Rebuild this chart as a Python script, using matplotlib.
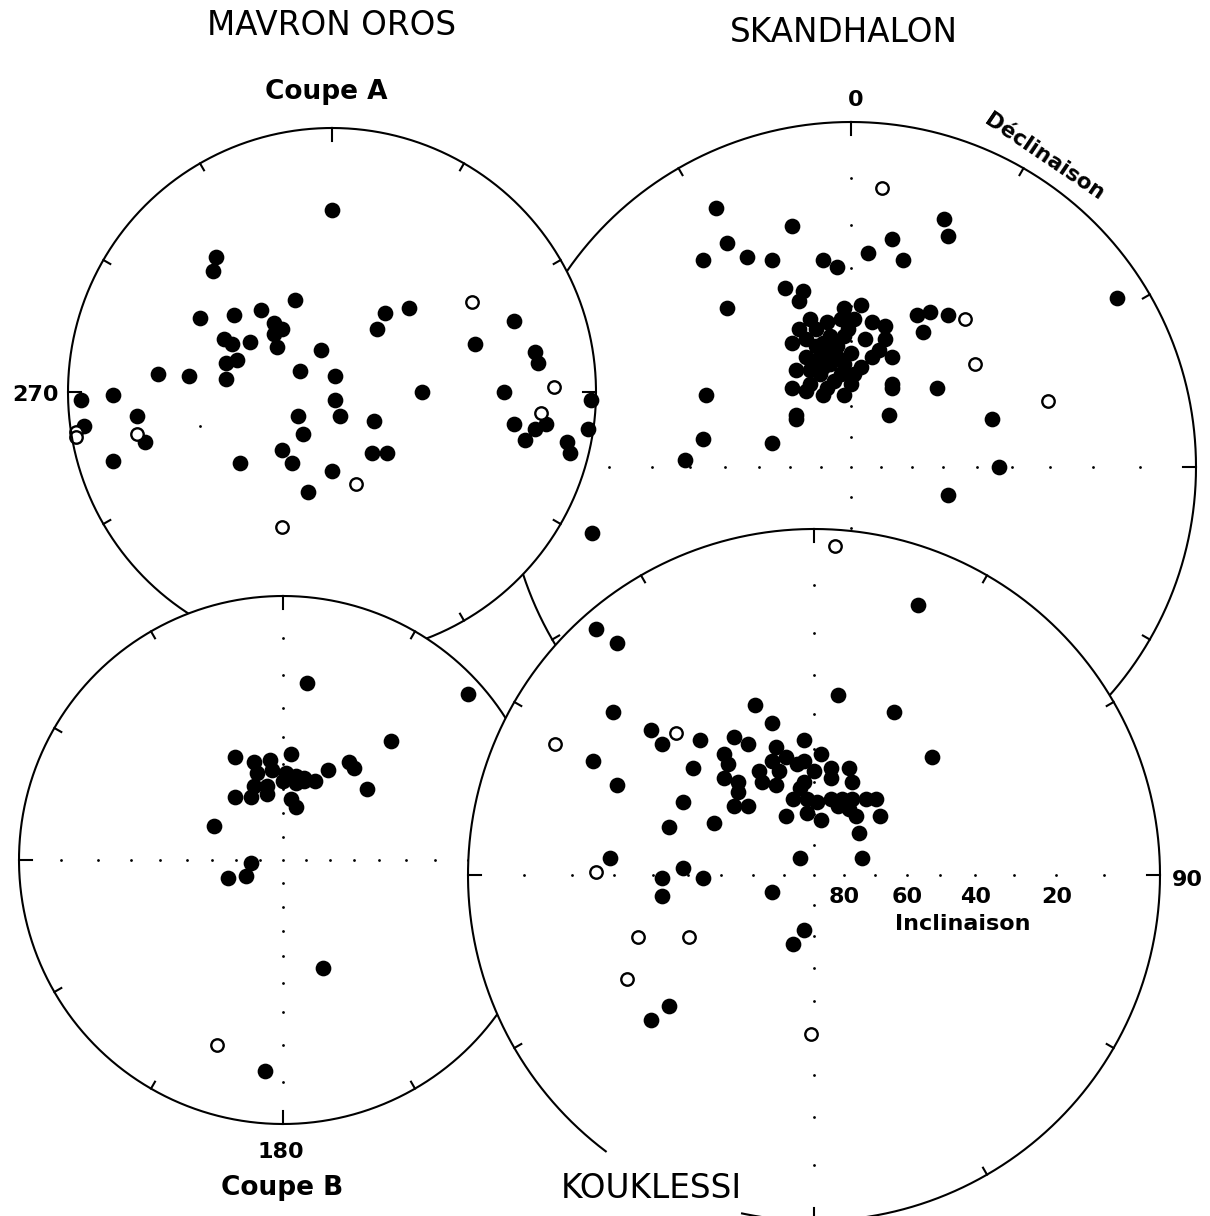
import numpy as np
import matplotlib
matplotlib.use("Agg")
import matplotlib.pyplot as plt
from matplotlib.patches import Circle

W, H = 1210, 1216

# Wulff net positions (unit radius): east, north
# --- Mavron Oros, coupe A
coupe_a_full_e = [0.00, -0.44, -0.45, -0.14, -0.50, -0.37, -0.27, -0.22, -0.19, -0.22,
                  -0.21, -0.41, -0.38, -0.31, -0.40, -0.36, -0.40, -0.04, -0.12, 0.01,
                  -0.66, -0.54, -0.83, -0.95, 0.20, 0.17, 0.29, 0.01, 0.69, 0.54,
                  0.77, 0.78, 0.34, 0.65, 0.98, -0.94, -0.74, -0.71, -0.83, -0.35,
                  -0.13, -0.11, 0.03, -0.19, -0.15, 0.00, -0.09, 0.16, 0.15, 0.21,
                  0.69, 0.77, 0.81, 0.73, 0.89, 0.90, 0.97]
coupe_a_full_n = [0.69, 0.51, 0.46, 0.35, 0.28, 0.29, 0.31, 0.26, 0.24, 0.22,
                  0.17, 0.20, 0.18, 0.19, 0.11, 0.12, 0.05, 0.16, 0.08, 0.06,
                  0.07, 0.06, -0.01, -0.03, 0.30, 0.24, 0.32, -0.03, 0.27, 0.18,
                  0.15, 0.11, 0.00, 0.00, -0.03, -0.13, -0.09, -0.19, -0.26, -0.27,
                  -0.09, -0.16, -0.09, -0.22, -0.27, -0.30, -0.38, -0.11, -0.23, -0.23,
                  -0.12, -0.14, -0.12, -0.18, -0.19, -0.23, -0.14]
coupe_a_open_e = [0.53, 0.84, 0.79, -0.97, -0.97, -0.74, 0.09, -0.19]
coupe_a_open_n = [0.34, 0.02, -0.08, -0.15, -0.17, -0.16, -0.35, -0.51]

# --- Mavron Oros, coupe B
coupe_b_full_e = [0.09, 0.41, 0.70, -0.18, 0.25, 0.27, 0.17, 0.32, -0.11, -0.05,
                  0.03, -0.10, -0.04, 0.01, 0.05, 0.08, 0.12, 0.00, 0.05, 0.08,
                  -0.11, -0.06, -0.18, -0.12, -0.06, 0.03, 0.05, -0.26, -0.12, -0.21,
                  -0.14, 0.15, -0.07]
coupe_b_full_n = [0.67, 0.45, 0.63, 0.39, 0.37, 0.35, 0.34, 0.27, 0.37, 0.38,
                  0.40, 0.33, 0.34, 0.33, 0.32, 0.31, 0.30, 0.30, 0.29, 0.30,
                  0.28, 0.28, 0.24, 0.24, 0.25, 0.23, 0.20, 0.13, -0.01, -0.07,
                  -0.06, -0.41, -0.80]
coupe_b_open_e = [-0.25]
coupe_b_open_n = [-0.70]

# --- Skandhalon
skand_full_e = [-0.39, -0.17, -0.36, -0.43, -0.30, -0.23, -0.19, -0.14, -0.15, -0.36,
                -0.12, -0.17, -0.42, 0.27, 0.28, 0.12, 0.05, 0.15, -0.08, -0.04,
                0.77, 0.19, 0.23, 0.28, 0.21, 0.12, 0.25, 0.11, 0.41, 0.43,
                0.28, -0.16, -0.43, -0.23, -0.48, -0.75,
                -0.07, -0.02, 0.03, 0.01, 0.06, 0.10, 0.10, 0.12, 0.08, 0.06,
                0.03, 0.01, -0.16, -0.17, -0.13, -0.08, -0.02, 0.12, -0.16,
                -0.10, -0.06, -0.02, -0.10, -0.06, -0.10, -0.06, -0.02, -0.09, -0.05,
                0.00, -0.12, -0.12, -0.03, -0.15,
                -0.13, -0.08, -0.04, -0.13, -0.08, -0.04, 0.00, -0.08, -0.03, -0.07,
                0.04, -0.01]
skand_full_n = [0.75, 0.70, 0.65, 0.60, 0.61, 0.60, 0.52, 0.51, 0.48, 0.46,
                0.43, 0.36, 0.21, 0.72, 0.67, 0.66, 0.62, 0.60, 0.60, 0.58,
                0.49, 0.44, 0.45, 0.44, 0.39, 0.23, 0.23, 0.15, 0.14, 0.00,
                -0.08, 0.14, 0.08, 0.07, 0.02, -0.19,
                0.42, 0.46, 0.47, 0.43, 0.42, 0.41, 0.37, 0.32, 0.34, 0.32,
                0.29, 0.27, 0.28, 0.23, 0.22, 0.21, 0.21, 0.24, 0.15,
                0.40, 0.38, 0.38, 0.35, 0.34, 0.31, 0.30, 0.30, 0.27, 0.25,
                0.24, 0.28, 0.24, 0.43, 0.40,
                0.37, 0.36, 0.35, 0.32, 0.32, 0.32, 0.33, 0.29, 0.27, 0.23,
                0.37, 0.40]
skand_open_e = [0.09, 0.33, 0.36, 0.57]
skand_open_n = [0.81, 0.43, 0.30, 0.19]

# --- Kouklessi
kouk_full_e = [0.30, 0.07, 0.23, 0.34, -0.63, -0.57, -0.58, -0.12, -0.17, -0.47,
               -0.44, -0.33, -0.23, -0.19, -0.03, -0.64, -0.35, -0.57, -0.38, -0.26,
               -0.25, -0.26, -0.11, -0.08, -0.12, -0.10, 0.02, -0.16, -0.15, -0.11,
               -0.05, -0.03, 0.00, 0.05, 0.10, 0.05, 0.11, -0.22, -0.22, -0.23,
               -0.19, -0.03, -0.04, -0.06, -0.02, 0.01, 0.05, 0.08, 0.11, 0.15,
               0.18, -0.02, 0.02, 0.07, 0.10, 0.12, 0.19, -0.08, -0.29, 0.13,
               0.14, -0.42, -0.59, -0.44, -0.44, -0.38, -0.32, -0.04, -0.12, -0.03,
               -0.06, -0.42, -0.47]
kouk_full_n = [0.78, 0.52, 0.47, 0.34, 0.71, 0.67, 0.47, 0.44, 0.49, 0.42,
               0.38, 0.39, 0.40, 0.38, 0.39, 0.33, 0.31, 0.26, 0.21, 0.35,
               0.32, 0.28, 0.37, 0.34, 0.33, 0.30, 0.35, 0.30, 0.27, 0.26,
               0.32, 0.33, 0.30, 0.31, 0.31, 0.28, 0.27, 0.27, 0.24, 0.20,
               0.20, 0.27, 0.25, 0.22, 0.22, 0.21, 0.22, 0.22, 0.22, 0.22,
               0.22, 0.18, 0.16, 0.20, 0.19, 0.17, 0.17, 0.17, 0.15, 0.12,
               0.05, 0.14, 0.05, -0.01, -0.06, 0.02, -0.01, 0.05, -0.05, -0.16,
               -0.20, -0.38, -0.42]
kouk_open_e = [0.06, -0.40, -0.75, -0.63, -0.51, -0.36, -0.54, -0.01]
kouk_open_n = [0.95, 0.41, 0.38, 0.01, -0.18, -0.18, -0.30, -0.46]

incl_labels = [80, 60, 40, 20]


def wulff(inc):
    return np.tan(np.radians(90 - np.asarray(inc, dtype=float)) / 2)


def make_net(fig, cx, cy, r, z, gap=None, dots=True):
    ax = fig.add_axes([(cx - r) / W, 1 - (cy + r) / H, 2 * r / W, 2 * r / H])
    ax.set_xlim(-1, 1)
    ax.set_ylim(-1, 1)
    ax.set_axis_off()
    ax.set_zorder(z)
    ax.add_patch(Circle((0, 0), 1, facecolor='white', edgecolor='none', zorder=1))
    deg = np.linspace(0, 360, 1441)
    x, y = np.sin(np.radians(deg)), np.cos(np.radians(deg))
    if gap is not None:
        m = (deg > gap[0]) & (deg < gap[1])
        x[m] = np.nan
        y[m] = np.nan
    ax.plot(x, y, color='k', lw=1.5, zorder=4, clip_on=False)
    for d in range(0, 360, 30):
        if gap is not None and gap[0] < d < gap[1]:
            continue
        L = (13 if d % 90 == 0 else 8) / r
        s, c = np.sin(np.radians(d)), np.cos(np.radians(d))
        ax.plot([s, s * (1 - L)], [c, c * (1 - L)], color='k', lw=1.5,
                zorder=4, clip_on=False)
    if dots:
        rr = wulff(np.arange(10, 90, 10))
        zz = np.zeros_like(rr)
        ax.scatter(np.concatenate([rr, -rr, zz, zz, [0]]),
                   np.concatenate([zz, zz, rr, -rr, [0]]),
                   s=4, c='k', linewidths=0, zorder=2)
    return ax


def plot_points(ax, fe, fn, oe, on):
    ax.scatter(fe, fn, s=128, c='k', linewidths=0, zorder=3, clip_on=False)
    ax.scatter(oe, on, s=80, facecolors='white', edgecolors='k',
               linewidths=1.7, zorder=3, clip_on=False)


fig = plt.figure(figsize=(W / 100, H / 100), dpi=100)
fig.patch.set_facecolor('white')

lab = dict(fontsize=16, fontweight='bold', ha='center', va='center', color='k')
title = dict(fontsize=23.5, ha='center', va='center', color='k')

# Skandhalon (drawn first, lowest)
ax = make_net(fig, 851, 467, 345, 1)
plot_points(ax, skand_full_e, skand_full_n, skand_open_e, skand_open_n)
ax.text(0.015, 1.064, '0', **lab)
ax.text(-0.02, 1.26, 'SKANDHALON', **title)
ax.text(0.56, 0.90, 'Déclinaison', rotation=-34, rotation_mode='anchor',
        fontsize=15.5, fontweight='bold', ha='center', va='center')

# Coupe A
ax = make_net(fig, 332, 392, 264, 2, dots=False)
plot_points(ax, coupe_a_full_e, coupe_a_full_n, coupe_a_open_e, coupe_a_open_n)
ax.scatter([-0.50], [-0.13], s=4, c='k', linewidths=0, zorder=2)
ax.text(0.0, 1.39, 'MAVRON OROS', **title)
ax.text(-0.02, 1.136, 'Coupe A', fontsize=19, fontweight='bold',
        ha='center', va='center')
ax.text(-1.125, -0.01, '270', **lab)

# Coupe B
ax = make_net(fig, 283, 860, 264, 3)
plot_points(ax, coupe_b_full_e, coupe_b_full_n, coupe_b_open_e, coupe_b_open_n)
ax.text(-0.01, -1.106, '180', **lab)
ax.text(-0.005, -1.242, 'Coupe B', fontsize=19, fontweight='bold',
        ha='center', va='center')

# Kouklessi (top)
ax = make_net(fig, 814, 875, 346, 4, gap=(192, 217))
plot_points(ax, kouk_full_e, kouk_full_n, kouk_open_e, kouk_open_n)
ax.text(1.08, -0.014, '90', **lab)
for v in incl_labels:
    ax.text(wulff(v), -0.064, str(v), **lab)
ax.text(0.43, -0.142, 'Inclinaison', **lab)
ax.text(-0.47, -0.905, 'KOUKLESSI', **title)

fig.savefig('out.png', dpi=100, facecolor='white')
